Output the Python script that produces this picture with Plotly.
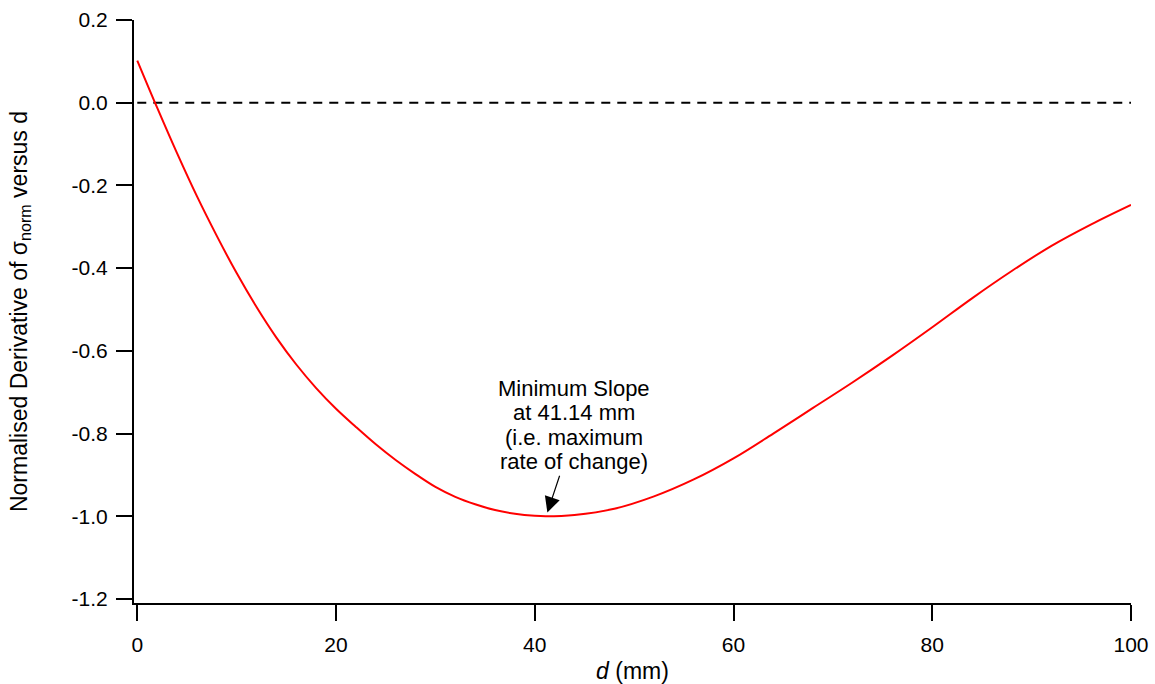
import plotly.graph_objects as go

# Normalised derivative of sigma_norm with respect to d
d_mm = [0, 2, 4, 6, 8, 10, 12, 14, 16, 18, 20, 22, 24, 26, 28, 30, 32, 34, 36,
        38, 40, 41.14, 44, 48, 52, 56, 60, 64, 68, 72, 76, 80, 84, 88, 92, 96, 100]
deriv = [0.102, -0.012, -0.122, -0.226, -0.322, -0.412, -0.494, -0.568, -0.633,
         -0.690, -0.740, -0.784, -0.826, -0.864, -0.898, -0.929, -0.953, -0.971,
         -0.985, -0.994, -0.999, -1.0, -0.997, -0.982, -0.952, -0.911, -0.860,
         -0.800, -0.738, -0.676, -0.611, -0.543, -0.473, -0.407, -0.346, -0.294,
         -0.247]

zero_x = [0, 100]
zero_y = [0, 0]

x_ticks = [0, 20, 40, 60, 80, 100]
y_ticks = [0.2, 0.0, -0.2, -0.4, -0.6, -0.8, -1.0, -1.2]
y_tick_labels = ["0.2", "0.0", "-0.2", "-0.4", "-0.6", "-0.8", "-1.0", "-1.2"]

min_d = 41.14
min_val = -1.0
note_lines = ["Minimum Slope", "at %.2f mm" % min_d, "(i.e. maximum", "rate of change)"]

FONT = "Liberation Sans, Arial, sans-serif"

fig = go.Figure()
fig.add_trace(go.Scatter(x=zero_x, y=zero_y, mode="lines",
                         line=dict(color="black", width=2, dash="9px,7px"),
                         hoverinfo="skip", showlegend=False))
fig.add_trace(go.Scatter(x=d_mm, y=deriv, mode="lines",
                         line=dict(color="#ff0000", width=2, shape="spline", smoothing=1),
                         showlegend=False))

# Note above the minimum, one annotation per line for a tight line spacing
for i, line in enumerate(note_lines):
    fig.add_annotation(x=min_d, y=min_val, xref="x", yref="y", text=line,
                       showarrow=False, xshift=28, yshift=128 - 24.5 * i,
                       font=dict(family=FONT, size=22, color="black"))

# Arrow pointing at the minimum
fig.add_annotation(x=min_d, y=min_val, xref="x", yref="y", text="",
                   showarrow=True, ax=14, ay=-42, standoff=4, arrowhead=2,
                   arrowsize=2.6, arrowwidth=1.2, arrowcolor="black")

axis_common = dict(showline=True, linecolor="black", linewidth=2, ticks="outside",
                   ticklen=16, tickwidth=2, tickcolor="black", showgrid=False,
                   zeroline=False, automargin=False,
                   tickfont=dict(family=FONT, size=21, color="black"))

fig.update_xaxes(range=[-0.33, 100], tickvals=x_ticks,
                 title=dict(text="<i>d</i> (mm)", font=dict(family=FONT, size=23, color="black"),
                            standoff=12),
                 ticklabelstandoff=6, **axis_common)
fig.update_yaxes(range=[-1.2097, 0.2], tickvals=y_ticks, ticktext=y_tick_labels,
                 title=dict(text="Normalised Derivative of σ<sub>norm</sub> versus d",
                            font=dict(family=FONT, size=23, color="black"), standoff=38),
                 ticklabelstandoff=4, **axis_common)

fig.update_layout(width=1155, height=684, margin=dict(l=134, r=24, t=20, b=81),
                  plot_bgcolor="white", paper_bgcolor="white",
                  font=dict(family=FONT, size=21, color="black"))

fig.write_html("out.html")
